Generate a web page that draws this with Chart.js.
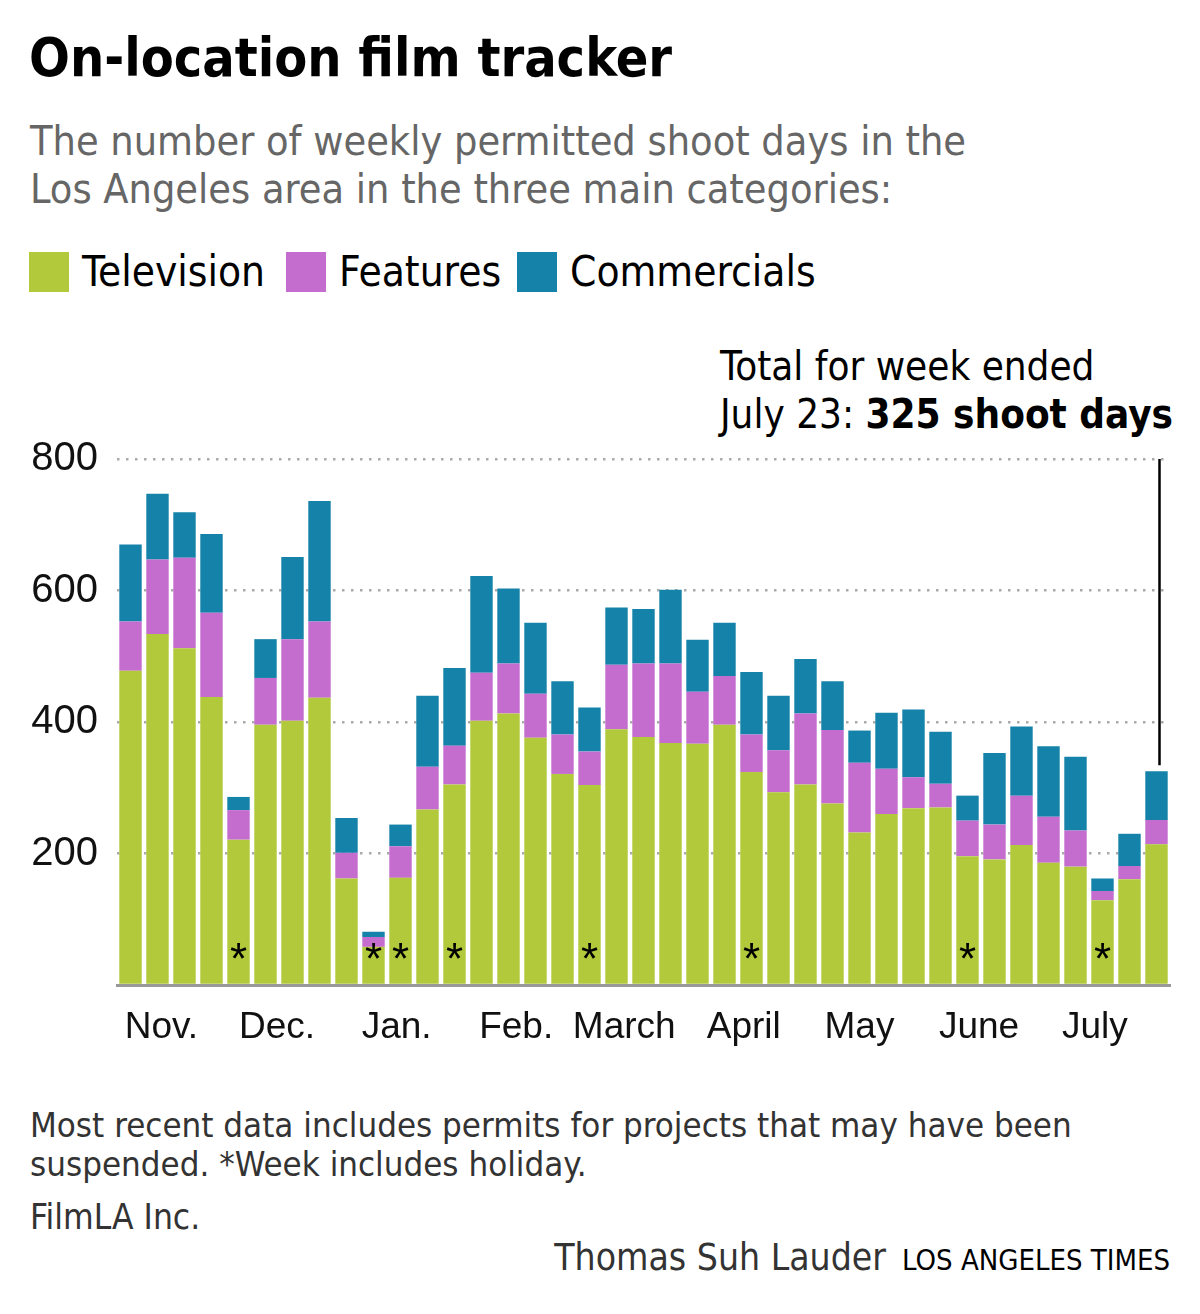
<!DOCTYPE html>
<html>
<head>
<meta charset="utf-8">
<script src="https://cdn.jsdelivr.net/npm/chart.js@4.4.0/dist/chart.umd.min.js"></script>
<style>
  body { margin: 0; background: #fff; width: 1200px; height: 1314px; position: relative; overflow: hidden;
         font-family: "Liberation Sans Narrow", "DejaVu Sans Condensed", sans-serif; }
  .abs { position: absolute; white-space: nowrap; }
  #title { left: 29px; top: 31px; font-size: 53.5px; line-height: 1; font-weight: bold; color: #000; }
  #sub { left: 30px; top: 117px; font-size: 41px; line-height: 48px; color: #666; }
  .sw { position: absolute; top: 252px; width: 40px; height: 40px; }
  .lg { top: 251px; font-size: 42px; line-height: 1; color: #000; }
  #note { left: 720px; top: 342px; font-size: 40px; line-height: 48px; color: #000; }
  #foot { left: 30px; top: 1106px; font-size: 34.6px; line-height: 39px; color: #333; }
  #src { left: 30px; top: 1200px; font-size: 35px; line-height: 1; color: #333; }
  #credit { right: 30px; top: 1239px; font-size: 37px; line-height: 1; color: #333; }
  #credit span { font-size: 29px; color: #000; margin-left: 16px; }
  #wrap { position: absolute; left: 0; top: 416px; width: 1200px; height: 654px; }
</style>
</head>
<body>
<div id="title" class="abs">On-location film tracker</div>
<div id="sub" class="abs">The number of weekly permitted shoot days in the<br>Los Angeles area in the three main categories:</div>

<div class="sw" style="left:29px;background:#b1c93a"></div>
<div class="abs lg" style="left:82px">Television</div>
<div class="sw" style="left:286px;background:#c56ccf"></div>
<div class="abs lg" style="left:339px">Features</div>
<div class="sw" style="left:517px;background:#1482a9"></div>
<div class="abs lg" style="left:570px">Commercials</div>

<div id="note" class="abs">Total for week ended<br>July 23: <b><span id="tot"></span> shoot days</b></div>

<div id="wrap"><canvas id="myChart"></canvas></div>

<div id="foot" class="abs">Most recent data includes permits for projects that may have been<br>suspended. *Week includes holiday.</div>
<div id="src" class="abs">FilmLA Inc.</div>
<div id="credit" class="abs">Thomas Suh Lauder<span>LOS ANGELES TIMES</span></div>

<script>
// week-ending dates
let weeks = [
    '2022-10-30', '2022-11-06', '2022-11-13', '2022-11-20', '2022-11-27',
    '2022-12-04', '2022-12-11', '2022-12-18', '2022-12-25',
    '2023-01-01', '2023-01-08', '2023-01-15', '2023-01-22', '2023-01-29',
    '2023-02-05', '2023-02-12', '2023-02-19', '2023-02-26',
    '2023-03-05', '2023-03-12', '2023-03-19', '2023-03-26',
    '2023-04-02', '2023-04-09', '2023-04-16', '2023-04-23', '2023-04-30',
    '2023-05-07', '2023-05-14', '2023-05-21', '2023-05-28',
    '2023-06-04', '2023-06-11', '2023-06-18', '2023-06-25',
    '2023-07-02', '2023-07-09', '2023-07-16', '2023-07-23'
];

let television = [478, 534, 512, 438, 221, 396, 402, 437, 162, 58, 163, 267, 305, 402, 413, 376, 321, 304, 389, 377,
                  368, 367, 396, 324, 293, 305, 276, 232, 260, 269, 270, 196, 191, 213, 186, 180, 129, 161, 214];
let features = [75, 113, 138, 128, 45, 71, 124, 116, 39, 15, 48, 65, 59, 73, 76, 67, 60, 51, 98, 112,
                121, 79, 74, 57, 64, 108, 112, 106, 69, 47, 36, 54, 53, 75, 70, 55, 14, 20, 37];
let commercials = [117, 100, 69, 120, 20, 59, 125, 183, 53, 8, 33, 108, 118, 147, 114, 108, 81, 67, 87, 83,
                   112, 79, 81, 95, 83, 83, 74, 49, 85, 103, 79, 38, 109, 105, 107, 112, 19, 49, 74];

// weeks that include a holiday
let holidayWeeks = ['2022-11-27', '2023-01-01', '2023-01-08', '2023-01-22', '2023-02-26',
                    '2023-04-09', '2023-06-04', '2023-07-09'];

let monthNames = ['Nov.', 'Dec.', 'Jan.', 'Feb.', 'March', 'April', 'May', 'June', 'July'];
let monthStarts = ['2022-11-01', '2022-12-01', '2023-01-01', '2023-02-01', '2023-03-01',
                   '2023-04-01', '2023-05-01', '2023-06-01', '2023-07-01'];

let yTicks = [0, 200, 400, 600, 800];

let tv_color = '#b1c93a';
let feat_color = '#c56ccf';
let comm_color = '#1482a9';

let last = weeks.length - 1;
let lastTotal = television[last] + features[last] + commercials[last];
document.getElementById('tot').textContent = lastTotal;

// bars sit at the start of their week; position of a date in index units
const DAY = 86400000;
let firstStart = Date.parse(weeks[0]) - 6 * DAY;
function dateToIndex(d) {
    return (Date.parse(d) - firstStart) / (7 * DAY);
}

const extras = {
    id: 'extras',
    afterDatasetsDraw(chart) {
        const ctx = chart.ctx;
        const x = chart.scales.x;
        const y = chart.scales.y;
        const area = chart.chartArea;
        ctx.save();

        // holiday marks
        ctx.fillStyle = '#000';
        ctx.font = '44px "Liberation Sans", sans-serif';
        ctx.textAlign = 'center';
        ctx.textBaseline = 'alphabetic';
        holidayWeeks.forEach(w => {
            let i = weeks.indexOf(w);
            ctx.fillText('*', x.getPixelForValue(i), area.bottom - 11);
        });

        // month labels
        ctx.fillStyle = '#111';
        ctx.font = '37px "Liberation Sans", sans-serif';
        monthNames.forEach((m, k) => {
            ctx.fillText(m, x.getPixelForValue(dateToIndex(monthStarts[k])), area.bottom + 53);
        });

        // pointer line to last bar
        let lx = x.getPixelForValue(last) + 3;
        ctx.strokeStyle = '#000';
        ctx.lineWidth = 2.5;
        ctx.beginPath();
        ctx.moveTo(lx, y.getPixelForValue(yTicks[yTicks.length - 1]));
        ctx.lineTo(lx, y.getPixelForValue(lastTotal) - 6);
        ctx.stroke();
        ctx.restore();
    }
};

var ctx = document.getElementById('myChart').getContext('2d');
new Chart(ctx, {
    type: 'bar',
    data: {
        labels: weeks,
        datasets: [
            { label: 'Television', data: television, backgroundColor: tv_color },
            { label: 'Features', data: features, backgroundColor: feat_color },
            { label: 'Commercials', data: commercials, backgroundColor: comm_color }
        ]
    },
    options: {
        responsive: true,
        maintainAspectRatio: false,
        animation: false,
        layout: { padding: { top: 16, left: 0, right: 30, bottom: 85 } },
        datasets: { bar: { barPercentage: 0.83, categoryPercentage: 1, borderWidth: 0 } },
        plugins: { legend: { display: false }, tooltip: { enabled: false } },
        scales: {
            x: {
                stacked: true,
                grid: { display: false },
                ticks: { display: false },
                border: { display: true, color: '#999', width: 3 },
                afterFit: s => { s.height = 0; }
            },
            y: {
                stacked: true,
                min: 0,
                max: 800,
                afterBuildTicks: s => { s.ticks = yTicks.map(v => ({ value: v })); },
                afterFit: s => { s.width = 117; },
                grid: {
                    drawTicks: false,
                    lineWidth: 2.5,
                    color: c => c.tick && c.tick.value === 0 ? 'rgba(0,0,0,0)' : '#aaa'
                },
                border: { display: false, dash: [2.5, 6.5] },
                ticks: {
                    padding: 19,
                    color: '#111',
                    font: { family: '"Liberation Sans", sans-serif', size: 40 },
                    callback: v => v === 0 ? '' : v
                }
            }
        }
    },
    plugins: [extras]
});
</script>
</body>
</html>
